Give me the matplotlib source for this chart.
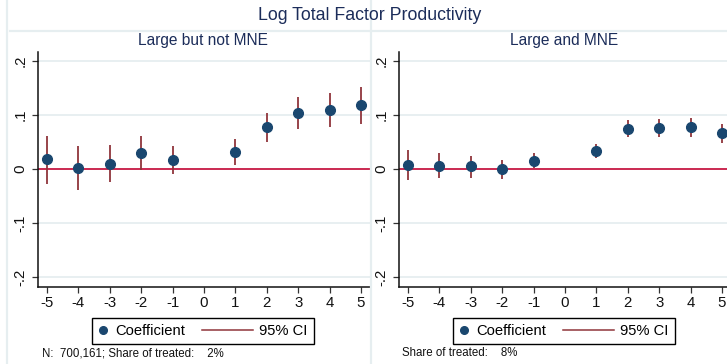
import matplotlib
matplotlib.use("Agg")
import matplotlib.pyplot as plt
from matplotlib.lines import Line2D
from matplotlib.legend_handler import HandlerLine2D
import numpy as np

plt.rcParams['font.family'] = ['Liberation Sans', 'DejaVu Sans']

# ---- data ----
periods = [-5, -4, -3, -2, -1, 1, 2, 3, 4, 5]

coef_large = [0.018, 0.002, 0.010, 0.030, 0.016, 0.032, 0.077, 0.104, 0.110, 0.119]
lo_large = [-0.027, -0.038, -0.024, -0.002, -0.010, 0.008, 0.050, 0.075, 0.078, 0.084]
hi_large = [0.062, 0.042, 0.044, 0.062, 0.042, 0.056, 0.103, 0.133, 0.141, 0.152]

coef_mne = [0.007, 0.006, 0.005, 0.000, 0.014, 0.033, 0.075, 0.076, 0.078, 0.066]
lo_mne = [-0.021, -0.017, -0.016, -0.019, 0.001, 0.020, 0.059, 0.060, 0.060, 0.048]
hi_mne = [0.035, 0.029, 0.025, 0.017, 0.029, 0.046, 0.090, 0.092, 0.094, 0.083]

xticks = [-5, -4, -3, -2, -1, 0, 1, 2, 3, 4, 5]
yticks = [-0.2, -0.1, 0, 0.1, 0.2]
ytick_labels = ['-.2', '-.1', '0', '.1', '.2']

main_title = "Log Total Factor Productivity"
panel_titles = ["Large but not MNE", "Large and MNE"]
notes = ["N:  700,161; Share of treated:    2%", "Share of treated:    8%"]
legend_labels = ["Coefficient", "95% CI"]

# ---- styles ----
W, H = 727, 364
NAVY = '#1a476f'
MAROON = '#90353b'
ZERO = '#c10534'
GRID = '#e6eef0'
TITLE_C = '#1c2d5a'

fig = plt.figure(figsize=(W / 100, H / 100), dpi=100)
fig.patch.set_facecolor('white')

def fx(px):
    return px / W

def fy(py):
    return 1 - py / H

# panel borders
for ln in [Line2D([fx(7), fx(7)], [0, 1]),
           Line2D([fx(371), fx(371)], [0, 1]),
           Line2D([fx(10), 1], [fy(31), fy(31)])]:
    ln.set_color(GRID)
    ln.set_linewidth(1.6)
    fig.add_artist(ln)


class LongLine(HandlerLine2D):
    def __init__(self, extra, **kw):
        super().__init__(**kw)
        self.extra = extra

    def get_xdata(self, legend, xdescent, ydescent, width, height, fontsize):
        xd, xm = super().get_xdata(legend, xdescent, ydescent, width, height, fontsize)
        return [-xdescent - self.extra, -xdescent + width], xm


panels = [
    dict(pos=[38, 77, 332, 235], xlim=(-5.287, 5.287), coef=coef_large, lo=lo_large, hi=hi_large,
         title_x=203, leg_x=203, note_x=42),
    dict(pos=[399, 77, 328, 235], xlim=(-5.287, 5.16), coef=coef_mne, lo=lo_mne, hi=hi_mne,
         title_x=564, leg_x=564, note_x=402),
]

for i, p in enumerate(panels):
    l, b, w, h = p['pos']
    ax = fig.add_axes([fx(l), b / H, fx(w), h / H])
    ax.set_facecolor('none')
    ax.set_xlim(*p['xlim'])
    ax.set_ylim(-0.2185, 0.2167)
    for y in [-0.2, -0.1, 0.1, 0.2]:
        ax.axhline(y, color=GRID, lw=1.3, zorder=0)
    ax.axhline(0, color=ZERO, lw=1.2, zorder=1)
    ax.vlines(periods, p['lo'], p['hi'], color=MAROON, lw=1.3, zorder=2)
    ax.plot(periods, p['coef'], 'o', color=NAVY, ms=7, mec=NAVY, zorder=3, clip_on=False)

    ax.set_xticks(xticks)
    ax.set_xticklabels([str(t) for t in xticks])
    ax.set_yticks(yticks)
    ax.set_yticklabels(ytick_labels, rotation=90, va='center')
    ax.tick_params(axis='both', length=4, width=0.9, color='#333333', labelsize=10.8,
                   labelcolor='#111111', pad=2.5)
    ax.tick_params(axis='y', pad=3.5)
    for s in ['top', 'right']:
        ax.spines[s].set_visible(False)
    for s in ['left', 'bottom']:
        ax.spines[s].set_color('#111111')
        ax.spines[s].set_linewidth(1.1)

    fig.text(fx(p['title_x']), fy(40), panel_titles[i], ha='center', va='center',
             fontsize=11.2, color=TITLE_C)

    h_coef = Line2D([], [], marker='o', ls='none', color=NAVY, ms=5.5)
    h_ci = Line2D([], [], color=MAROON, lw=1.1)
    leg = ax.legend([h_coef, h_ci], legend_labels, ncol=2, loc='center',
                    bbox_to_anchor=(fx(p['leg_x']), fy(331)), bbox_transform=fig.transFigure,
                    frameon=True, fancybox=False, framealpha=1, edgecolor='black',
                    fontsize=10.6, handlelength=0.7, handletextpad=0.45, columnspacing=3.9,
                    borderpad=0.4, borderaxespad=0, numpoints=1,
                    handler_map={h_ci: LongLine(extra=29.0)})
    leg.get_frame().set_linewidth(1.0)

    fig.text(fx(p['note_x']), fy(353), notes[i], ha='left', va='center', fontsize=8.3,
             color='#111111')

fig.text(fx(370), fy(16), main_title, ha='center', va='center', fontsize=12.8, color=TITLE_C)

fig.savefig('out.png', dpi=100)
